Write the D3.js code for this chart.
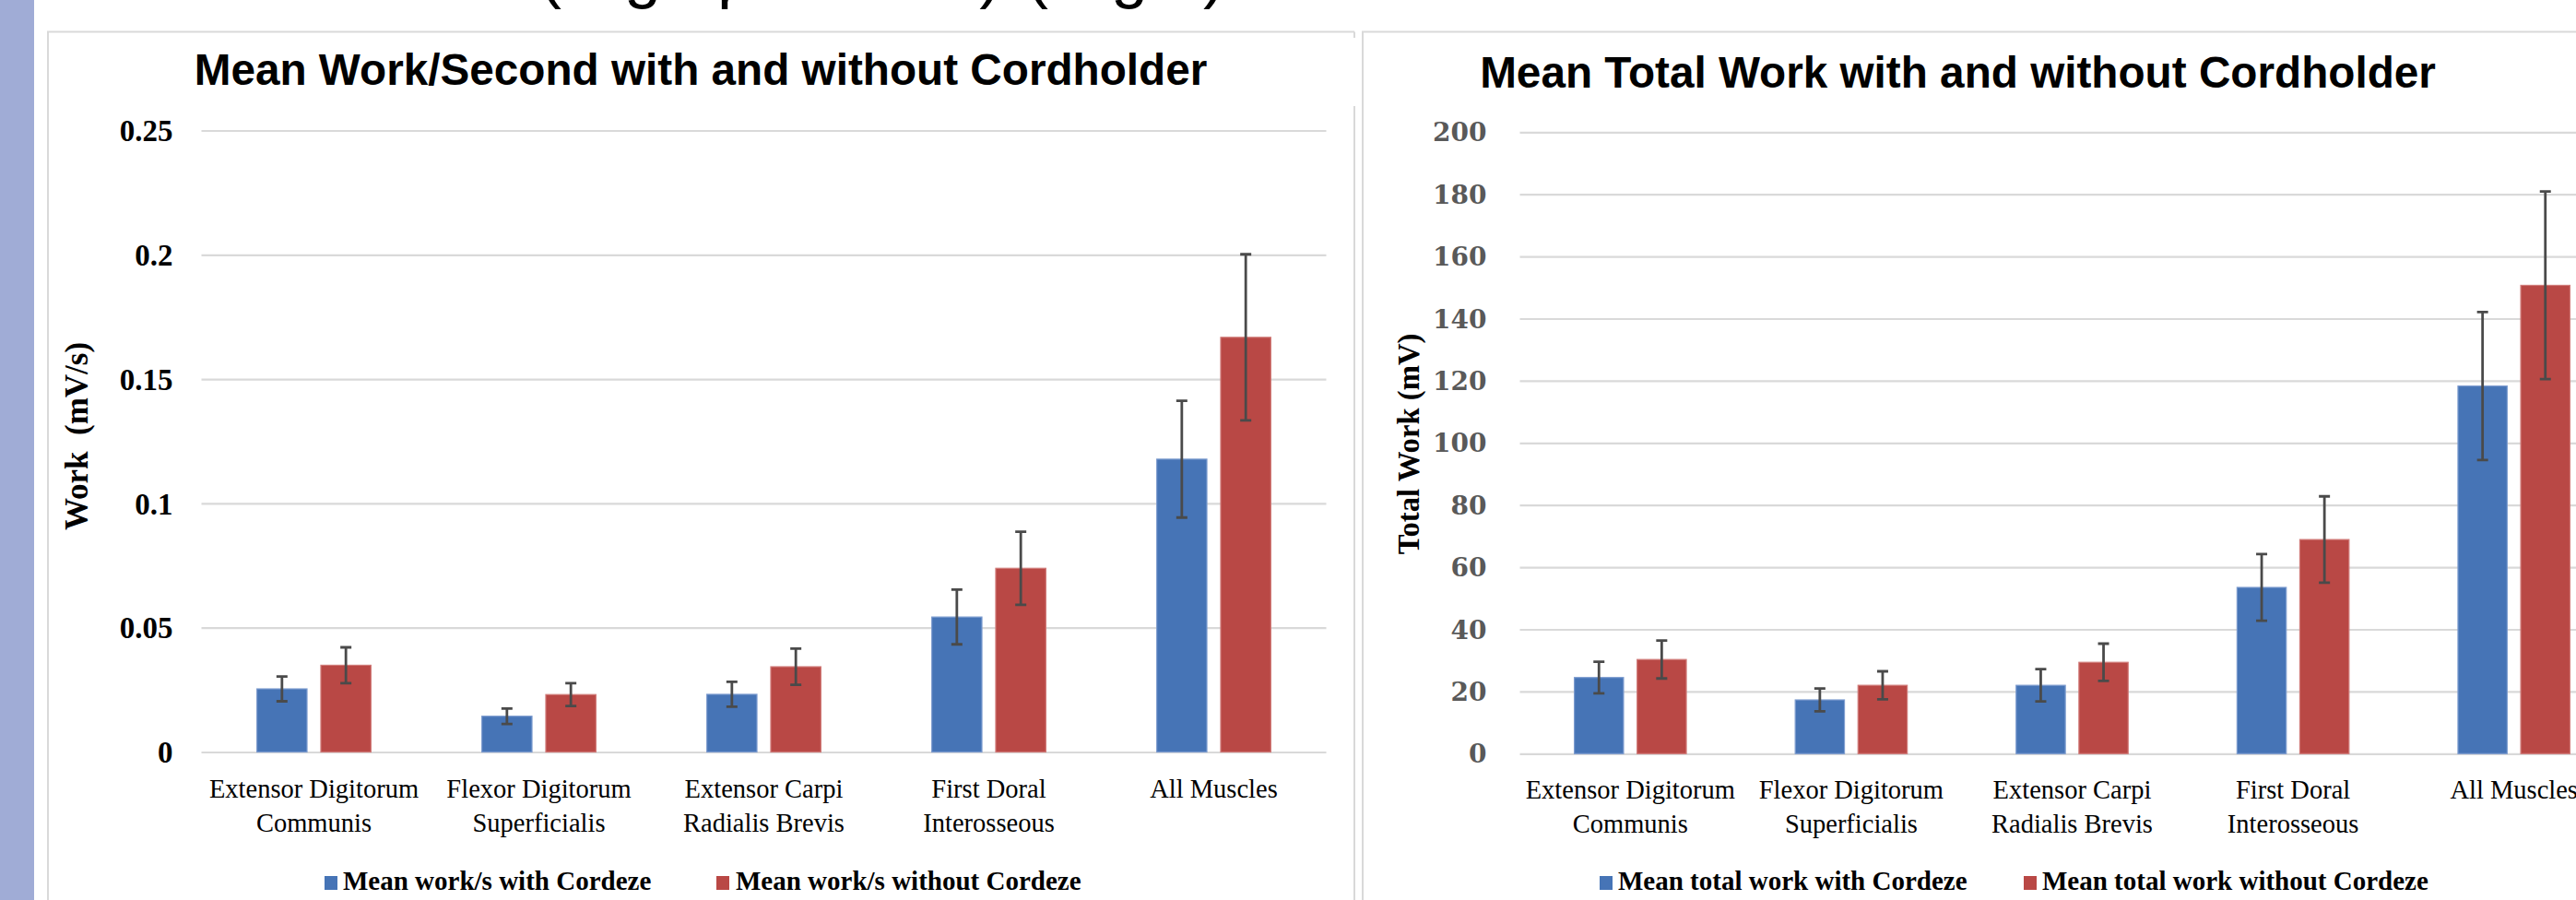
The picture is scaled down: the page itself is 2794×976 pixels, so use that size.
<!DOCTYPE html>
<html><head><meta charset="utf-8">
<script src="https://cdn.jsdelivr.net/npm/d3@7"></script>
<style>html,body{margin:0;padding:0;background:#fff;overflow:hidden}svg{display:block}</style>
</head><body>
<svg id="c" width="2794" height="976"></svg>
<script>
// ---------- data ----------
const categories = ["Extensor Digitorum Communis", "Flexor Digitorum Superficialis", "Extensor Carpi Radialis Brevis", "First Doral Interosseous", "All Muscles"];
const categoryLines = [["Extensor Digitorum", "Communis"], ["Flexor Digitorum", "Superficialis"], ["Extensor Carpi", "Radialis Brevis"], ["First Doral", "Interosseous"], ["All Muscles"]];
const seriesKeys = ["with", "without"];

// Chart 1: mean work per second (mV/s)
const workRateWith = [0.0254, 0.0144, 0.0232, 0.0543, 0.1178];
const workRateWithErr = [0.0050, 0.0031, 0.0050, 0.0110, 0.0235];
const workRateWithout = [0.0349, 0.0231, 0.0343, 0.0739, 0.1668];
const workRateWithoutErr = [0.0072, 0.0046, 0.0073, 0.0147, 0.0334];
const workRateTicks = [0, 0.05, 0.1, 0.15, 0.2, 0.25];
const workRateLegend = ["Mean work/s with Cordeze", "Mean work/s without Cordeze"];

// Chart 2: mean total work (mV)
const totalWith = [24.5, 17.3, 22.0, 53.5, 118.3];
const totalWithErr = [5.1, 3.7, 5.2, 10.7, 23.8];
const totalWithout = [30.3, 22.0, 29.4, 68.9, 150.7];
const totalWithoutErr = [6.1, 4.5, 6.0, 13.9, 30.2];
const totalTicks = [0, 20, 40, 60, 80, 100, 120, 140, 160, 180, 200];
const totalLegend = ["Mean total work with Cordeze", "Mean total work without Cordeze"];

// ---------- styles ----------
const BLUE = "#4674b6", RED = "#b94845";
const BLUE_EDGE = "#7d9ccf", RED_EDGE = "#d07a78";
const GRID = "#d9d9d9";
const SERIF = "'Liberation Serif', 'Times New Roman', serif";
const SERIF_W = "'DejaVu Serif', serif";
const SANS = "'Liberation Sans', Arial, sans-serif";

const svg = d3.select("#c");

// slide side strip
svg.append("rect").attr("x", 0).attr("y", 0).attr("width", 37).attr("height", 976).attr("fill", "#a0acd6");

// slide heading, cut off at the top of the picture
const head = svg.append("text").attr("font-family", SANS).attr("font-size", 72).attr("y", -5).attr("fill", "#000");
head.append("tspan").attr("x", 585).text("(Right,");
head.append("tspan").attr("x", 778).text("pronated)");
head.append("tspan").attr("x", 1113).text("(Right)");

// chart frames
svg.append("path").attr("d", "M52,976V34.5H1469M1469,34.5V41M1469,115V976")
  .attr("fill", "none").attr("stroke", GRID).attr("stroke-width", 2);
svg.append("path").attr("d", "M1478,976V34.5H2794")
  .attr("fill", "none").attr("stroke", GRID).attr("stroke-width", 2);

function drawChart(cfg) {
  const g = svg.append("g");
  const x = d3.scaleBand().domain(categories).range(cfg.xRange).paddingInner(0).paddingOuter(0);
  const bw = x.bandwidth();
  const xs = d3.scaleBand().domain(seriesKeys).range([bw * 0.2465, bw * (1 - 0.2465)]).paddingInner(0.216).paddingOuter(0);
  const y = d3.scaleLinear().domain(cfg.domain).range(cfg.yRange);

  // gridlines
  const grid = g.append("g").attr("transform", `translate(${cfg.xRange[0]},0)`)
    .call(d3.axisLeft(y).tickValues(cfg.ticks).tickSize(-(cfg.xRange[1] - cfg.xRange[0])).tickFormat(""));
  grid.select(".domain").remove();
  grid.selectAll("line").attr("stroke", GRID).attr("stroke-width", 2.2);

  // y tick labels
  const ya = g.append("g").attr("transform", `translate(${cfg.xRange[0]},0)`)
    .call(d3.axisLeft(y).tickValues(cfg.ticks).tickSize(0).tickPadding(cfg.tickPad).tickFormat(cfg.fmt));
  ya.select(".domain").remove();
  ya.selectAll("text").attr("font-family", cfg.tickFont).attr("font-weight", "bold")
    .attr("font-size", cfg.tickSize).attr("fill", cfg.tickColor).attr("dy", "0.34em");

  // bars
  const series = [
    {key: "with", vals: cfg.withVals, errs: cfg.withErr, fill: BLUE, edge: BLUE_EDGE},
    {key: "without", vals: cfg.withoutVals, errs: cfg.withoutErr, fill: RED, edge: RED_EDGE}
  ];
  series.forEach(s => {
    g.append("g").selectAll("rect").data(categories).join("rect")
      .attr("x", (c) => x(c) + xs(s.key))
      .attr("width", xs.bandwidth())
      .attr("y", (c, i) => y(s.vals[i]))
      .attr("height", (c, i) => y(0) - y(s.vals[i]))
      .attr("fill", s.fill).attr("stroke", s.edge).attr("stroke-width", 1.2);
  });
  // error bars
  series.forEach(s => {
    const eg = g.append("g").attr("stroke", "#4a4a4a").attr("stroke-width", 2.8).attr("fill", "none");
    categories.forEach((c, i) => {
      const cx = x(c) + xs(s.key) + xs.bandwidth() / 2;
      const hi = y(s.vals[i] + s.errs[i]), lo = y(s.vals[i] - s.errs[i]);
      eg.append("path").attr("d", `M${cx},${hi}V${lo}M${cx - 6},${hi}H${cx + 6}M${cx - 6},${lo}H${cx + 6}`);
    });
  });

  // category labels
  const cl = g.append("g").attr("font-family", SERIF).attr("font-size", cfg.catSize).attr("fill", "#000").attr("text-anchor", "middle");
  categories.forEach((c, i) => {
    const t = cl.append("text").attr("x", x(c) + bw / 2).attr("y", y(0) + cfg.catOffset);
    categoryLines[i].forEach((ln, j) => {
      t.append("tspan").attr("x", x(c) + bw / 2).attr("dy", j === 0 ? 0 : cfg.catLine).text(ln);
    });
  });

  // title
  g.append("text").attr("x", cfg.titleX).attr("y", cfg.titleY).attr("text-anchor", "middle")
    .attr("font-family", SANS).attr("font-weight", "bold").attr("font-size", 47.7).attr("fill", "#000").text(cfg.title);

  // y axis title
  g.append("text").attr("transform", `translate(${cfg.yTitleX},${cfg.yTitleY}) rotate(-90)`)
    .attr("text-anchor", "middle").attr("dy", "0.35em").style("white-space", "pre")
    .attr("font-family", SERIF).attr("font-weight", "bold").attr("font-size", cfg.yTitleSize).attr("fill", "#000").text(cfg.yTitle);

  // legend
  const lg = g.append("g");
  cfg.legend.forEach((lab, i) => {
    lg.append("rect").attr("x", cfg.legendSq[i]).attr("y", cfg.legendY - 15).attr("width", 14).attr("height", 15)
      .attr("fill", i === 0 ? BLUE : RED);
    lg.append("text").attr("x", cfg.legendTx[i]).attr("y", cfg.legendY)
      .attr("font-family", SERIF).attr("font-weight", "bold").attr("font-size", cfg.legendSize).attr("fill", "#000").text(lab);
  });
}

drawChart({
  xRange: [218.5, 1438.5], yRange: [815.5, 141.5], domain: [0, 0.25], ticks: workRateTicks,
  fmt: (d) => String(d), tickPad: 31, tickSize: 33, tickColor: "#000", tickFont: SERIF,
  withVals: workRateWith, withErr: workRateWithErr, withoutVals: workRateWithout, withoutErr: workRateWithoutErr,
  catSize: 28.5, catOffset: 49.5, catLine: 36.7,
  title: "Mean Work/Second with and without Cordholder", titleX: 760, titleY: 91.7,
  yTitle: "Work  (mV/s)", yTitleX: 83, yTitleY: 473, yTitleSize: 35,
  legend: workRateLegend, legendSq: [352, 777], legendTx: [372, 798], legendY: 965, legendSize: 29
});

drawChart({
  xRange: [1648.5, 2846.5], yRange: [817.3, 143.3], domain: [0, 200], ticks: totalTicks,
  fmt: (d) => String(d), tickPad: 36, tickSize: 28, tickColor: "#595959", tickFont: SERIF_W,
  withVals: totalWith, withErr: totalWithErr, withoutVals: totalWithout, withoutErr: totalWithoutErr,
  catSize: 28.5, catOffset: 49, catLine: 37,
  title: "Mean Total Work with and without Cordholder", titleX: 2123.5, titleY: 95,
  yTitle: "Total Work (mV)", yTitleX: 1528, yTitleY: 481.5, yTitleSize: 32.7,
  legend: totalLegend, legendSq: [1735, 2195], legendTx: [1755, 2215], legendY: 965, legendSize: 29
});
</script>
</body></html>
